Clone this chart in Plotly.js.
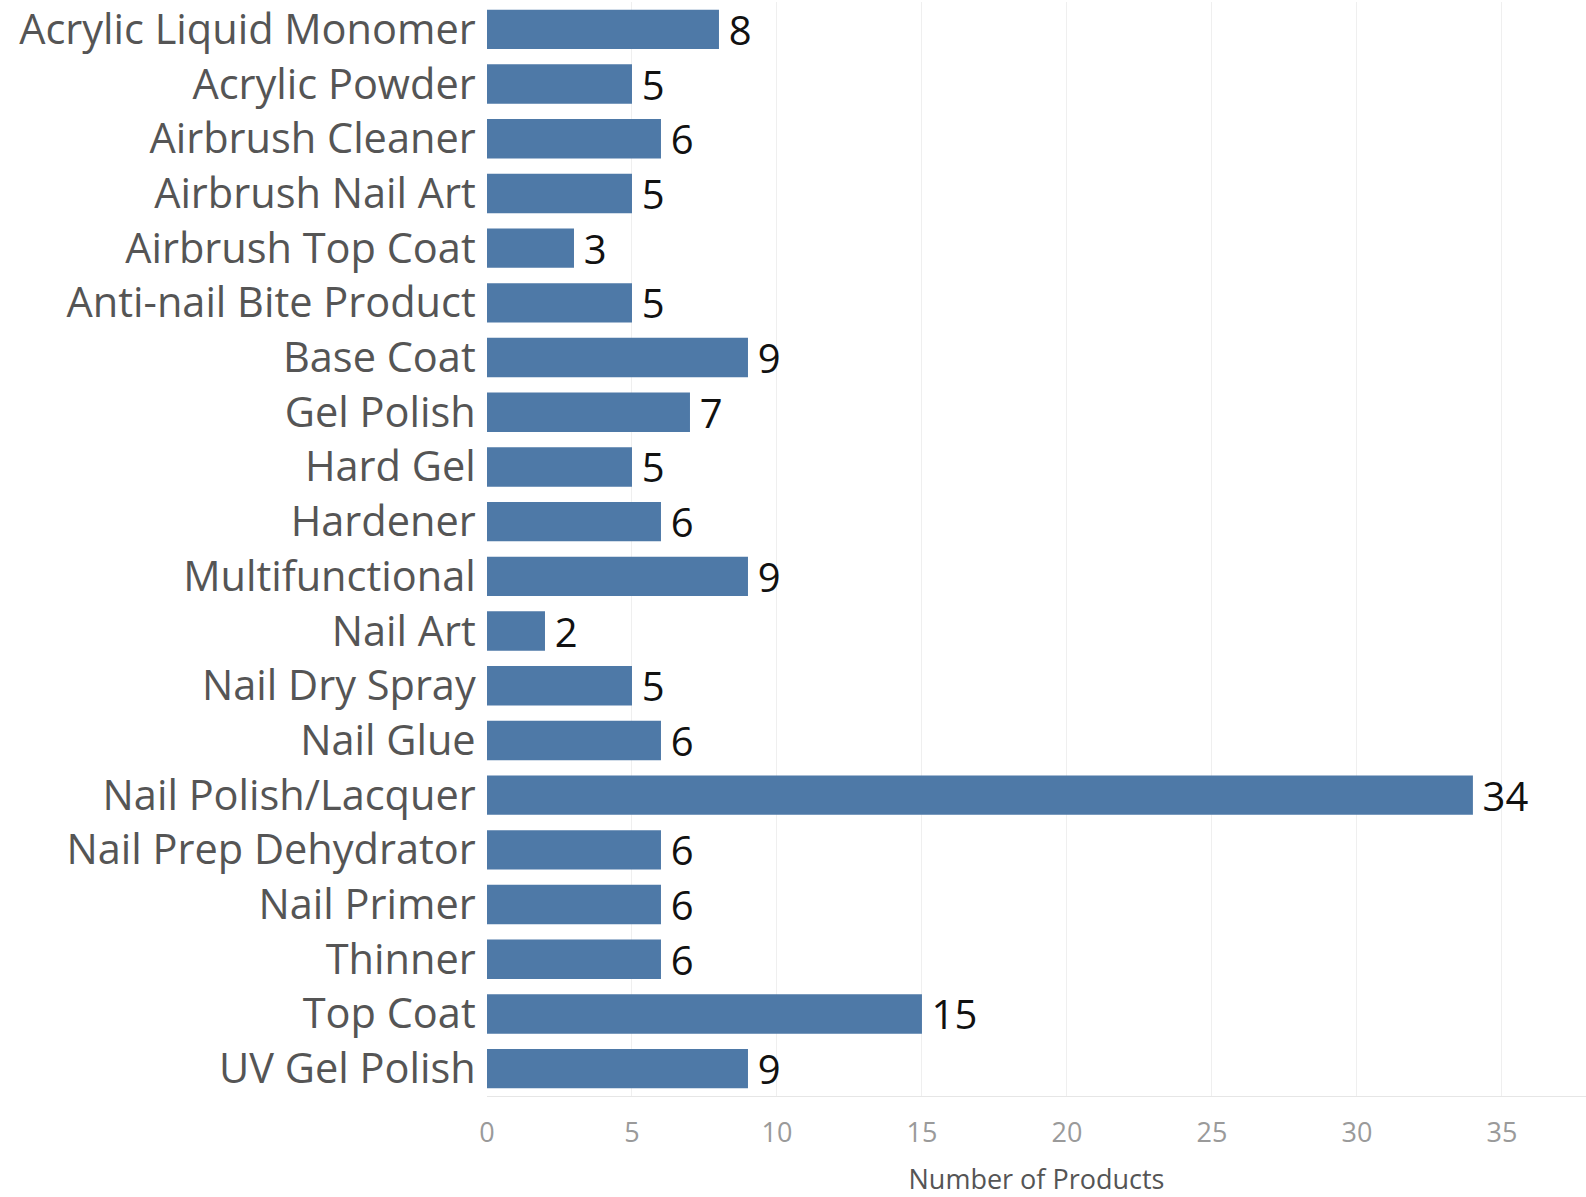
<!DOCTYPE html>
<html>
<head>
<meta charset="utf-8">
<script src="https://cdn.plot.ly/plotly-3.0.1.min.js"></script>
<style>html,body{margin:0;padding:0;background:#fff;}#chart{width:1586px;height:1197px;}</style>
</head>
<body>
<div id="chart"></div>
<script>
const categories = ["Acrylic Liquid Monomer","Acrylic Powder","Airbrush Cleaner","Airbrush Nail Art","Airbrush Top Coat","Anti-nail Bite Product","Base Coat","Gel Polish","Hard Gel","Hardener","Multifunctional","Nail Art","Nail Dry Spray","Nail Glue","Nail Polish/Lacquer","Nail Prep Dehydrator","Nail Primer","Thinner","Top Coat","UV Gel Polish"];
const counts = [8,5,6,5,3,5,9,7,5,6,9,2,5,6,34,6,6,6,15,9];
const xTicks = [0,5,10,15,20,25,30,35];

const FONT = '"Open Sans", Lato, sans-serif';

const trace = {
  type: 'bar',
  orientation: 'h',
  y: categories,
  x: counts,
  text: counts.map(v => '\u2009' + v),
  textposition: 'outside',
  constraintext: 'none',
  cliponaxis: false,
  textfont: {family: FONT, size: 40, color: '#111'},
  marker: {color: '#4e79a7'},
  hoverinfo: 'none'
};

const layout = {
  width: 1586, height: 1197,
  margin: {l: 487, r: 0, t: 2, b: 101},
  paper_bgcolor: '#fff', plot_bgcolor: '#fff',
  showlegend: false,
  bargap: 0.28,
  font: {family: FONT},
  xaxis: {
    range: [0, 37.9],
    tickvals: xTicks,
    ticktext: xTicks.map(String),
    showgrid: true, gridcolor: '#efefef', gridwidth: 1,
    zeroline: false,
    showline: true, linecolor: '#e6e6e6', linewidth: 1,
    ticks: 'outside', ticklen: 13, tickcolor: 'rgba(0,0,0,0)',
    tickfont: {size: 27, color: '#9a9a9a'},
    title: {text: 'Number of Products', font: {size: 27, color: '#555'}, standoff: 25}
  },
  yaxis: {
    autorange: 'reversed',
    type: 'category',
    showgrid: false, zeroline: false, showline: false,
    ticks: 'outside', ticklen: 2, tickcolor: 'rgba(0,0,0,0)',
    tickfont: {size: 41.5, color: '#555'}
  }
};

Plotly.newPlot('chart', [trace], layout, {displayModeBar: false, staticPlot: true});
</script>
</body>
</html>
